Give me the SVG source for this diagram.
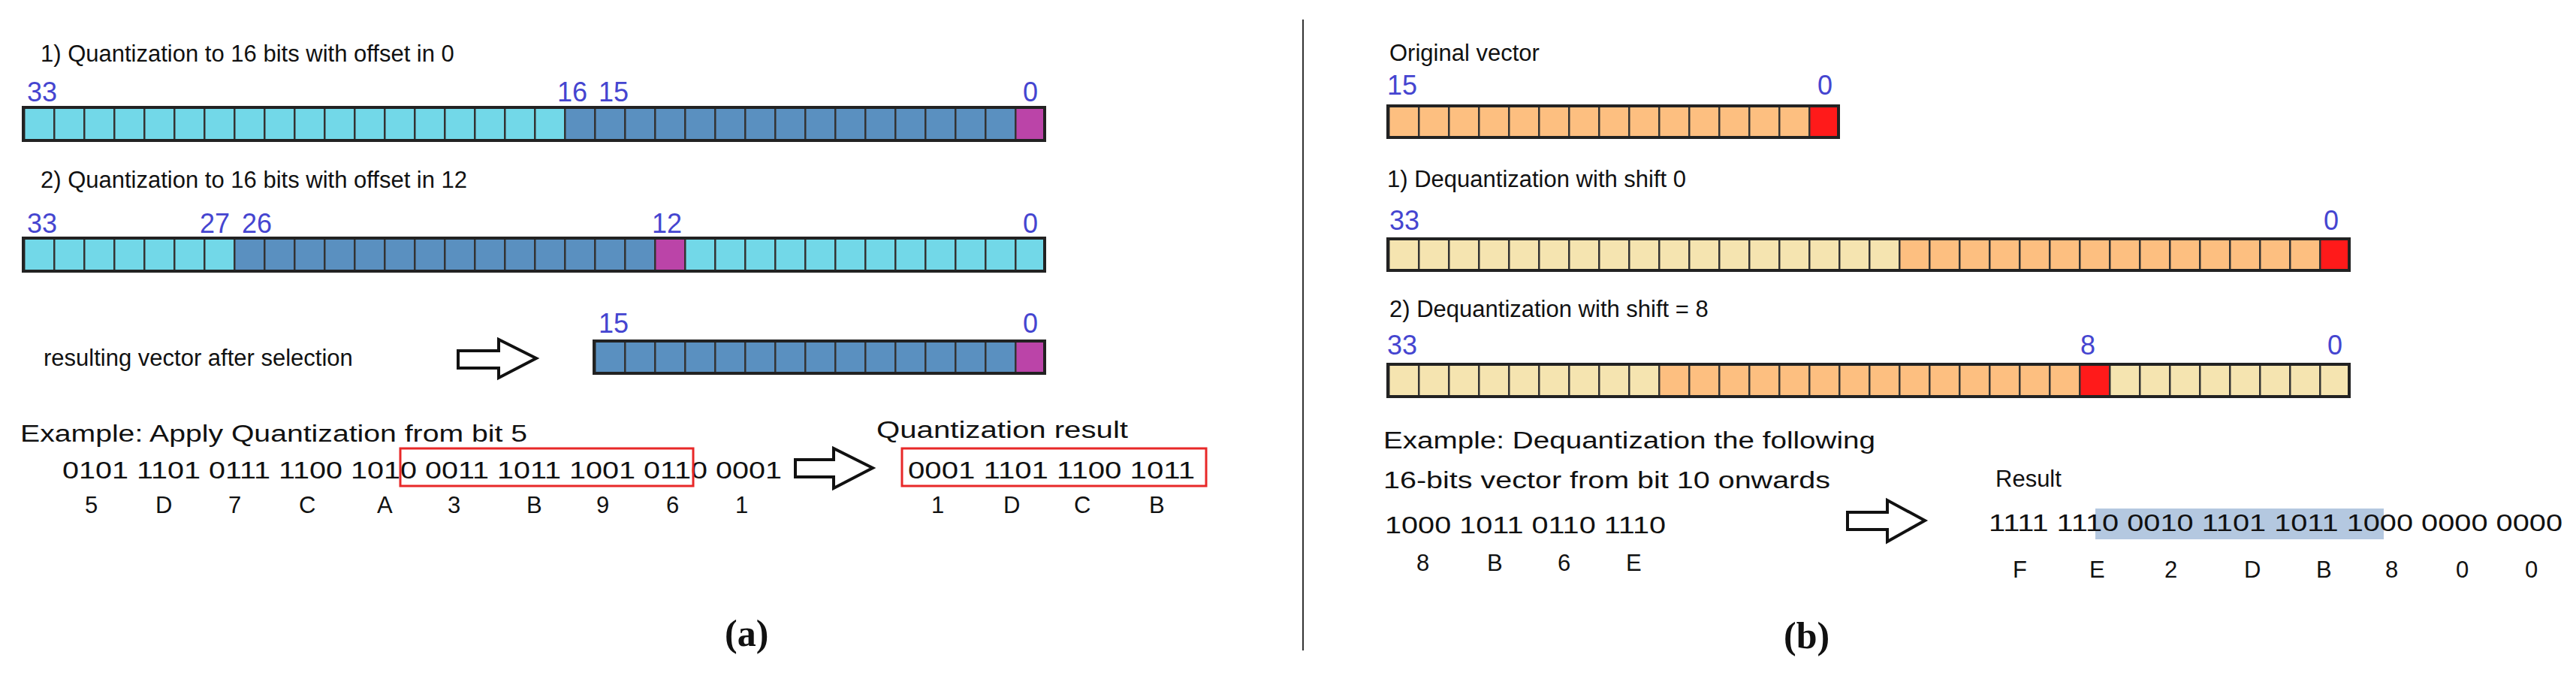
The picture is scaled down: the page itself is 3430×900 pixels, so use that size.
<svg xmlns="http://www.w3.org/2000/svg" width="3430" height="900" viewBox="0 0 3430 900">
<style>
.t{font-family:"Liberation Sans",Arial,sans-serif;font-size:31px;fill:#111}
.n{font-family:"Liberation Sans",Arial,sans-serif;font-size:36px;fill:#4545d0}
.cap{font-family:"Liberation Serif","Times New Roman",serif;font-size:50px;font-weight:bold;fill:#111}
.lc{fill:#72d8e8}.dc{fill:#5a90c0}.mc{fill:#bb44a8}
.lo{fill:#f5e4b0}.oc{fill:#fdbf80}.rc{fill:#ff1a1a}
.frame{fill:none;stroke:#222;stroke-width:4}
.arrow{fill:#fff;stroke:#111;stroke-width:4;stroke-linejoin:miter}
.box{fill:none;stroke:#e82828;stroke-width:3}
</style>
<defs>
<pattern id="g1" x="31" y="0" width="40" height="900" patternUnits="userSpaceOnUse"><rect x="0" y="0" width="2.5" height="900" fill="#333"/></pattern>
<pattern id="g2" x="1848" y="0" width="40" height="900" patternUnits="userSpaceOnUse"><rect x="0" y="0" width="2.5" height="900" fill="#333"/></pattern>
</defs>

<g id="panel-a-bar1">
<text class="t" x="54" y="82">1) Quantization to 16 bits with offset in 0</text>
<text class="n" x="36" y="135">33</text><text class="n" x="742" y="135">16</text><text class="n" x="797" y="135">15</text><text class="n" x="1362" y="135">0</text>
<rect class="lc" x="31" y="143" width="720" height="44"/>
<rect class="dc" x="751" y="143" width="600" height="44"/>
<rect class="mc" x="1351" y="143" width="40" height="44"/>
<rect fill="url(#g1)" x="31" y="143" width="1360" height="44"/>
<rect class="frame" x="31" y="143" width="1360" height="44"/>
</g>

<g id="panel-a-bar2">
<text class="t" x="54" y="250">2) Quantization to 16 bits with offset in 12</text>
<text class="n" x="36" y="310">33</text><text class="n" x="266" y="310">27</text><text class="n" x="322" y="310">26</text><text class="n" x="868" y="310">12</text><text class="n" x="1362" y="310">0</text>
<rect class="lc" x="31" y="317" width="280" height="44"/>
<rect class="dc" x="311" y="317" width="560" height="44"/>
<rect class="mc" x="871" y="317" width="40" height="44"/>
<rect class="lc" x="911" y="317" width="480" height="44"/>
<rect fill="url(#g1)" x="31" y="317" width="1360" height="44"/>
<rect class="frame" x="31" y="317" width="1360" height="44"/>
</g>

<g id="panel-a-result-vector">
<text class="t" x="58" y="487">resulting vector after selection</text>
<polygon class="arrow" points="610,467 664,467 664,452 714,477 664,503 664,490 610,490"/>
<text class="n" x="797" y="443">15</text><text class="n" x="1362" y="443">0</text>
<rect class="dc" x="791" y="454" width="560" height="43"/>
<rect class="mc" x="1351" y="454" width="40" height="43"/>
<rect fill="url(#g1)" x="791" y="454" width="600" height="43"/>
<rect class="frame" x="791" y="454" width="600" height="43"/>
</g>

<g id="panel-a-example">
<text class="t" x="27" y="588" textLength="675" lengthAdjust="spacingAndGlyphs">Example: Apply Quantization from bit 5</text>
<text class="t" x="83" y="637" font-size="33" textLength="958" lengthAdjust="spacingAndGlyphs">0101 1101 0111 1100 1010 0011 1011 1001 0110 0001</text>
<rect class="box" x="533" y="597" width="390" height="50"/>
<g class="t" font-size="33">
<text x="113" y="683">5</text><text x="207" y="683">D</text><text x="304" y="683">7</text><text x="398" y="683">C</text><text x="502" y="683">A</text><text x="596" y="683">3</text><text x="701" y="683">B</text><text x="794" y="683">9</text><text x="887" y="683">6</text><text x="979" y="683">1</text>
</g>
<polygon class="arrow" points="1059,612 1110,612 1110,597 1162,623 1110,650 1110,635 1059,635"/>
<text class="t" x="1167" y="583" textLength="335" lengthAdjust="spacingAndGlyphs">Quantization result</text>
<rect class="box" x="1201" y="597" width="405" height="50"/>
<text class="t" x="1209" y="637" font-size="33" textLength="382" lengthAdjust="spacingAndGlyphs">0001 1101 1100 1011</text>
<g class="t" font-size="33">
<text x="1240" y="683">1</text><text x="1336" y="683">D</text><text x="1430" y="683">C</text><text x="1530" y="683">B</text>
</g>
<text class="cap" x="965" y="860">(a)</text>
</g>

<g id="divider"><line x1="1735" y1="26" x2="1735" y2="866" stroke="#333" stroke-width="2"/></g>

<g id="panel-b-original">
<text class="t" x="1850" y="81">Original vector</text>
<text class="n" x="1847" y="126">15</text><text class="n" x="2420" y="126">0</text>
<rect class="oc" x="1848" y="141" width="560" height="42"/>
<rect class="rc" x="2408" y="141" width="40" height="42"/>
<rect fill="url(#g2)" x="1848" y="141" width="600" height="42"/>
<rect class="frame" x="1848" y="141" width="600" height="42"/>
</g>

<g id="panel-b-shift0">
<text class="t" x="1847" y="249">1) Dequantization with shift 0</text>
<text class="n" x="1850" y="306">33</text><text class="n" x="3094" y="306">0</text>
<rect class="lo" x="1848" y="318" width="680" height="42"/>
<rect class="oc" x="2528" y="318" width="560" height="42"/>
<rect class="rc" x="3088" y="318" width="40" height="42"/>
<rect fill="url(#g2)" x="1848" y="318" width="1280" height="42"/>
<rect class="frame" x="1848" y="318" width="1280" height="42"/>
</g>

<g id="panel-b-shift8">
<text class="t" x="1850" y="422">2) Dequantization with shift = 8</text>
<text class="n" x="1847" y="472">33</text><text class="n" x="2770" y="472">8</text><text class="n" x="3099" y="472">0</text>
<rect class="lo" x="1848" y="485" width="360" height="43"/>
<rect class="oc" x="2208" y="485" width="560" height="43"/>
<rect class="rc" x="2768" y="485" width="40" height="43"/>
<rect class="lo" x="2808" y="485" width="320" height="43"/>
<rect fill="url(#g2)" x="1848" y="485" width="1280" height="43"/>
<rect class="frame" x="1848" y="485" width="1280" height="43"/>
</g>

<g id="panel-b-example">
<text class="t" x="1842" y="597" textLength="655" lengthAdjust="spacingAndGlyphs">Example: Dequantization the following</text>
<text class="t" x="1842" y="650" textLength="595" lengthAdjust="spacingAndGlyphs">16-bits vector from bit 10 onwards</text>
<text class="t" x="1844" y="710" font-size="33" textLength="374" lengthAdjust="spacingAndGlyphs">1000 1011 0110 1110</text>
<g class="t" font-size="33">
<text x="1886" y="760">8</text><text x="1980" y="760">B</text><text x="2074" y="760">6</text><text x="2165" y="760">E</text>
</g>
<polygon class="arrow" points="2460,682 2513,682 2513,666 2563,693 2513,721 2513,705 2460,705"/>
<text class="t" x="2657" y="648">Result</text>
<rect x="2790" y="677" width="384" height="41" fill="#b4c8e0"/>
<text class="t" x="2648" y="707" font-size="33" textLength="764" lengthAdjust="spacingAndGlyphs">1111 1110 0010 1101 1011 1000 0000 0000</text>
<g class="t" font-size="33">
<text x="2680" y="769">F</text><text x="2782" y="769">E</text><text x="2882" y="769">2</text><text x="2988" y="769">D</text><text x="3084" y="769">B</text><text x="3176" y="769">8</text><text x="3270" y="769">0</text><text x="3362" y="769">0</text>
</g>
<text class="cap" x="2375" y="863">(b)</text>
</g>
</svg>
